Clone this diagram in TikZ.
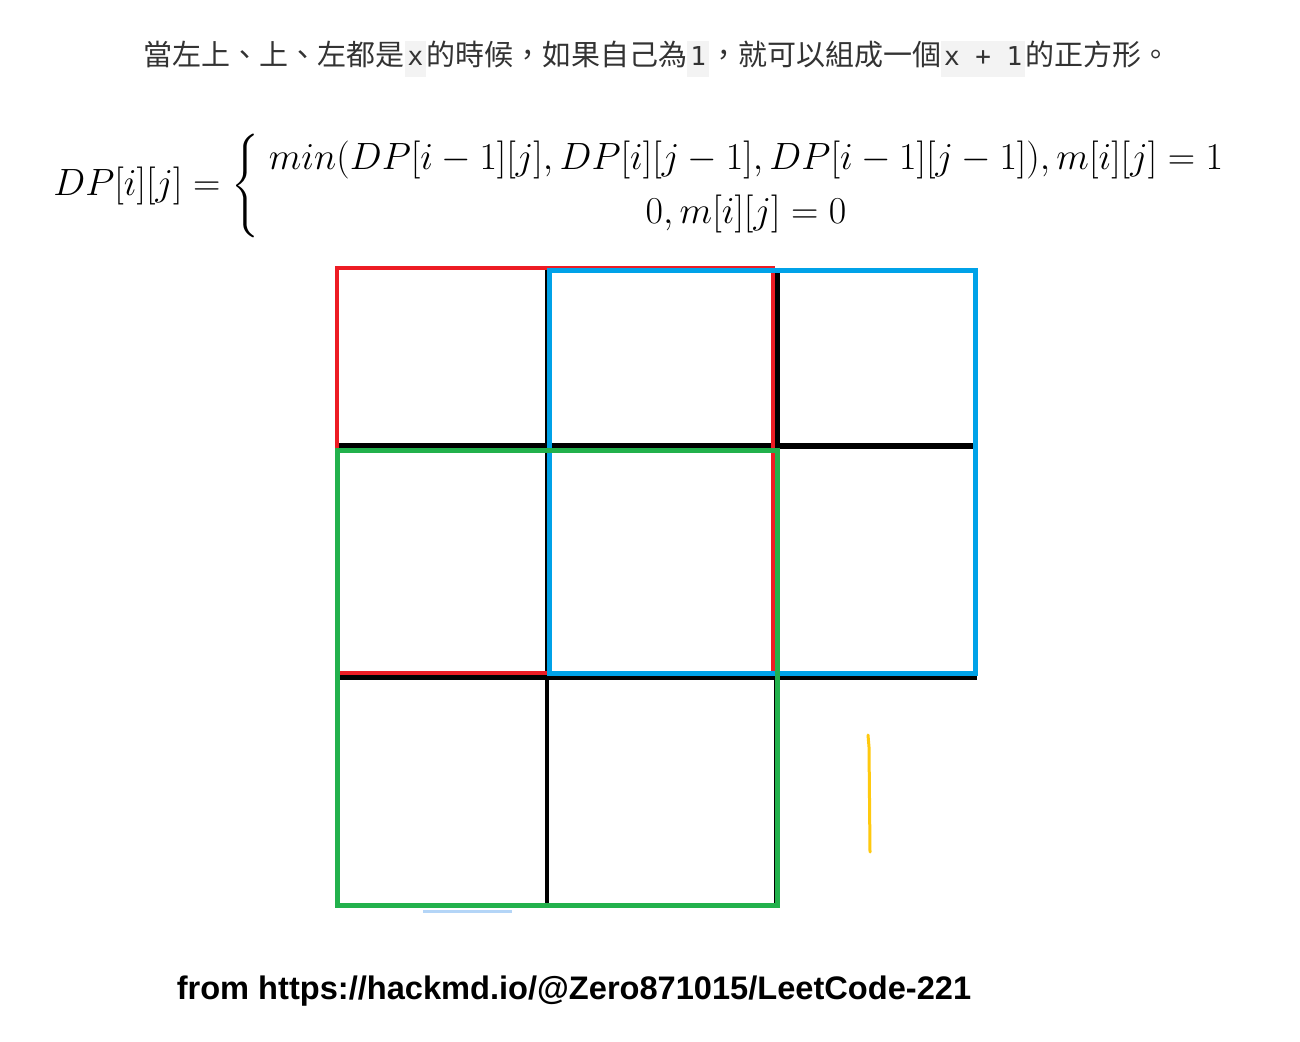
\RequirePackage{fix-cm}
\documentclass[tikz,border=0pt]{standalone}
\usepackage{amsmath}
\usepackage{fontspec}
\usepackage{xcolor}
\newfontfamily\cjk{Noto Sans CJK TC}
\newfontfamily\codefont{DejaVu Sans Mono}
\newfontfamily\linkfont{Liberation Sans}
\definecolor{paintred}{HTML}{ED1C24}
\definecolor{paintblue}{HTML}{00A2E8}
\definecolor{paintgreen}{HTML}{22B14C}
\definecolor{paintyellow}{HTML}{FFC90E}
\definecolor{textgray}{HTML}{333333}
\definecolor{codebg}{HTML}{F3F3F3}
\definecolor{paleblue}{HTML}{B4D5F7}
\newcommand{\codebit}[1]{{\setlength{\fboxsep}{1.5pt}\colorbox{codebg}{\codefont\fontsize{13}{15}\selectfont\strut #1}}}

\begin{document}
\begin{tikzpicture}[x=0.5pt,y=-0.5pt]
		\tikzstyle{caption}=[inner sep=0, text=textgray, font=\cjk\fontsize{14.5}{17}\selectfont]
		\tikzstyle{formula}=[anchor=west, inner sep=0, font=\fontsize{19}{27}\selectfont]
		\tikzstyle{source}=[inner sep=0, font=\linkfont\bfseries\fontsize{16.3}{19}\selectfont]
		\tikzstyle{gridline}=[draw=black, line width=2pt]
		\tikzstyle{redbox}=[draw=paintred, line width=2pt]
		\tikzstyle{bluebox}=[draw=paintblue, line width=2.5pt]
		\tikzstyle{greenbox}=[draw=paintgreen, line width=2.5pt]
		\tikzstyle{yellowmark}=[draw=paintyellow, line width=1.5pt, line cap=round, line join=round]
		
		\useasboundingbox[fill=white] (0,0) rectangle (1300,1042);
		
		\node[caption] (top) at (657,59) {當左上、上、左都是\codebit{x}的時候，如果自己為\codebit{1}，就可以組成一個\codebit{x + 1}的正方形。};
		\node[formula] (dp) at (53,186) {$\displaystyle DP[i][j] = \left\{\begin{array}{c} min(DP[i-1][j], DP[i][j-1], DP[i-1][j-1]), m[i][j] = 1 \\ 0, m[i][j] = 0 \end{array}\right.$};
		
		\draw[gridline] (547,268) -- (547,905);
		\draw[gridline, line width=3pt] (777,268) -- (777,907);
		\draw[gridline, line width=3pt] (337,446) -- (975,446);
		\draw[gridline, line width=3pt] (337,677) -- (977,677);
		\draw[redbox] (337,268) rectangle (773,673);
		\draw[bluebox] (549,271) rectangle (975,673);
		\draw[greenbox] (337,451) rectangle (777,905);
		\draw[yellowmark] (868,735) -- (869,747) -- (870,852);
		\draw[draw=paleblue, line width=1.5pt] (423,911) -- (512,911);
		
		\node[source] (src) at (574,991) {from https://hackmd.io/@Zero871015/LeetCode-221};
		\end{tikzpicture}
\end{document}
